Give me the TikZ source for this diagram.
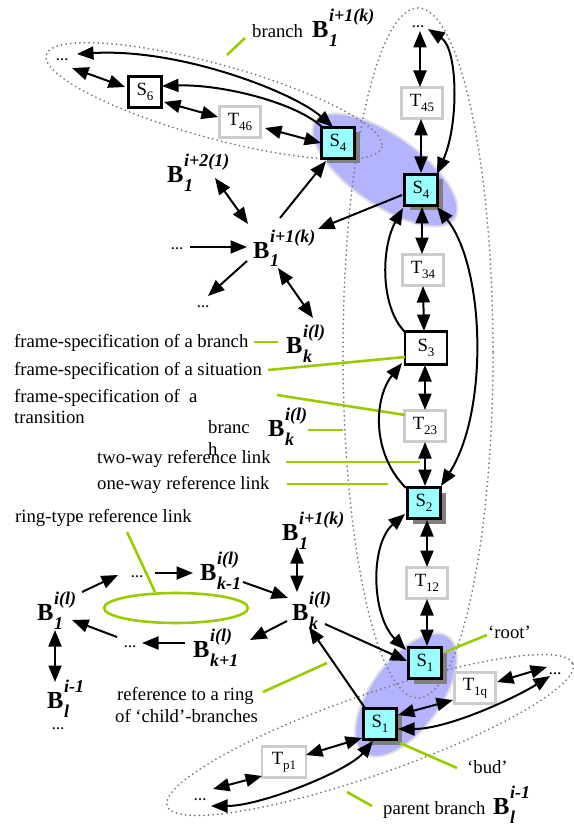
\documentclass[tikz,border=0pt]{standalone}
\usepackage{fontspec}
\setmainfont{Liberation Serif}
\usetikzlibrary{arrows.meta,calc,shadows}

\definecolor{cyanfill}{HTML}{99FFFF}
\definecolor{blobfill}{HTML}{B3B3FF}
\definecolor{blobedge}{HTML}{E0E0E0}
\definecolor{leaf}{HTML}{99CC00}
\definecolor{tedge}{HTML}{CCCCCC}
\definecolor{dotgray}{HTML}{7A7A7A}
\definecolor{shade}{HTML}{808080}

% subscript of a situation / transition label
\newcommand\lsub[1]{\raisebox{-5pt}{\fontsize{13}{13}\selectfont #1}}
% branch symbol B with sub- and superscript
\newcommand\Blab[2]{{\fontsize{24.5}{24}\selectfont\bfseries B}\kern0.5pt\raisebox{-9pt}{\fontsize{18}{25}\selectfont\bfseries\itshape\vbox{\hbox{#2}\hbox{#1}}}}

\begin{document}
\begin{tikzpicture}[x=1pt, y=-1pt, font=\fontsize{18.7}{22}\selectfont,
  sbox/.style={draw=black, line width=2.2pt, fill=white, minimum width=33pt, minimum height=31pt, inner sep=0pt},
  cbox/.style={sbox, fill=cyanfill, drop shadow={shadow xshift=5pt, shadow yshift=-5pt, opacity=1, fill=shade}},
  tbox/.style={draw=tedge, line width=2.2pt, fill=white, minimum width=41pt, minimum height=31pt, inner sep=0pt},
  bl/.style={anchor=base west, inner sep=0pt},
  dotlabel/.style={anchor=base, inner sep=0pt, font=\fontsize{12.5}{12}\selectfont\bfseries},
  txt/.style={anchor=base west, inner sep=0pt},
  link/.style={line width=2pt, -{Triangle[length=16.5pt,width=13pt]}},
  link2/.style={line width=2pt, {Triangle[length=16.5pt,width=13pt]}-{Triangle[length=16.5pt,width=13pt]}},
  note/.style={draw=leaf, line width=2.6pt},
  ring/.style={draw=dotgray, line width=2pt, dash pattern=on 0pt off 4.6pt, line cap=round},
  blob/.style={fill=blobfill, draw=blobedge, line width=2pt}]

\useasboundingbox (0,0) rectangle (573,826);

% shaded groups and branch outlines
\draw[blob, rotate around={-35:(385,170)}] (385,170) ellipse [x radius=85, y radius=35];
\draw[blob, rotate around={54:(406,695)}] (406,695) ellipse [x radius=72, y radius=35];
\draw[ring, rotate around={-15.4:(214,101)}] (214,101) ellipse [x radius=174, y radius=37];
\draw[ring] (418,353) ellipse [x radius=75, y radius=345];
\draw[ring, rotate around={19.3:(370,735)}] (370,735) ellipse [x radius=215, y radius=40];
\draw[note] (176,608) ellipse [x radius=72, y radius=15];

% situations and transitions
\node[sbox] (S6) at (145,92) {S\lsub{6}};
\node[tbox] (T46) at (240,122) {T\lsub{46}};
\node[cbox] (S4L) at (338,143) {S\lsub{4}};
\node[tbox] (T45) at (422,103) {T\lsub{45}};
\node[cbox] (S4R) at (421,190) {S\lsub{4}};
\node[tbox] (T34) at (423,270) {T\lsub{34}};
\node[sbox, minimum width=42pt, minimum height=33pt] (S3) at (426,348) {S\lsub{3}};
\node[tbox] (T23) at (425,426) {T\lsub{23}};
\node[cbox] (S2) at (424,503) {S\lsub{2}};
\node[tbox] (T12) at (427,583) {T\lsub{12}};
\node[cbox] (S1r) at (425,663) {S\lsub{1}};
\node[tbox] (T1q) at (475,688) {T\lsub{1q}};
\node[cbox] (S1b) at (380,724) {S\lsub{1}};
\node[tbox, minimum width=44pt] (Tp1) at (284,762) {T\lsub{p1}};

% ellipses of omitted items
\node[dotlabel] (dTL) at (62,61) {…};
\node[dotlabel] (dT) at (418,28) {…};
\node[dotlabel] (dR) at (555,674) {…};
\node[dotlabel] (dBL) at (200,800) {…};
\node[dotlabel] (dM1) at (177,249) {…};
\node[dotlabel] (dM2) at (203,307) {…};
\node[dotlabel] (dR1) at (137,577) {…};
\node[dotlabel] (dR2) at (130,647) {…};
\node[dotlabel] (dBl) at (58,729) {…};

% branches
\node[bl] (bTop) at (312,38) {\Blab{1}{i+1(k)}};
\node[bl] (bI2) at (167,183) {\Blab{1}{i+2(1)}};
\node[bl] (bMid) at (253,258) {\Blab{1}{i+1(k)}};
\node[bl] (bKa) at (286,353) {\Blab{k}{i(l)}};
\node[bl] (bKb) at (268,436) {\Blab{k}{i(l)}};
\node[bl] (bLow) at (282,540) {\Blab{1}{i+1(k)}};
\node[bl] (bKm) at (200,580) {\Blab{k-1}{i(l)}};
\node[bl] (bK) at (292,620) {\Blab{k}{i(l)}};
\node[bl] (bKp) at (193,657) {\Blab{k+1}{i(l)}};
\node[bl] (b1) at (37,620) {\Blab{1}{i(l)}};
\node[bl] (bL) at (47,708) {\Blab{l}{i-1}};
\node[bl] (bPar) at (493,814) {\Blab{l}{i-1}};

% captions
\node[txt] (tBr) at (252,38) {branch};
\node[txt] (tFB) at (14,347) {frame-specification of a branch};
\node[txt] (tFS) at (14,375) {frame-specification of a situation};
\node[txt] (tFT) at (14,402) {frame-specification of~ a};
\node[txt] (tFT2) at (14,423) {transition};
\node[txt] (tBc) at (208,433) {branc};
\node[txt] (tBh) at (208,455) {h};
\node[txt] (tTw) at (97,463) {two-way reference link};
\node[txt] (tOw) at (97,489) {one-way reference link};
\node[txt] (tRg) at (15,522) {ring-type reference link};
\node[txt] (tRf) at (117,700) {reference to a ring};
\node[txt] (tRf2) at (115,722) {of ‘child’-branches};
\node[txt] (tRoot) at (488,638) {‘root’};
\node[txt] (tBud) at (467,773) {‘bud’};
\node[txt] (tPar) at (383,814) {parent branch};

% caption pointers
\draw[note] ($(tBr.base west)+(-25,17)$) -- ($(tBr.base west)+(-7,0)$);
\draw[note] ($(tFB.base east)+(5,-5)$) -- ($(bKa.base west)+(-8,-11)$);
\draw[note] ($(tFS.base east)+(6,-5)$) -- ($(S3)+(-21,9)$);
\draw[note] ($(T23)+(-148,-31)$) -- ($(T23)+(-20,-11)$);
\draw[note] ($(bKb.base west)+(40,-6)$) -- ($(bKb.base west)+(75,-6)$);
\draw[note] ($(tTw.base east)+(15,-1)$) -- ($(S2)+(-4,-41)$);
\draw[note] ($(tOw.base east)+(17,-5)$) -- ($(S2)+(-36,-19)$);
\draw[note] ($(tRg.base west)+(112,10)$) -- ($(tRg.base west)+(140,70)$);
\draw[note] ($(bK.base west)+(-29,72)$) -- ($(bK.base west)+(35,43)$);
\draw[note] ($(S1r)+(20,-11)$) -- ($(S1r)+(62,-28)$);
\draw[note] ($(S1b)+(20,19)$) -- ($(S1b)+(77,44)$);
\draw[note] ($(tPar.base west)+(-36,-22)$) -- ($(tPar.base west)+(-11,-8)$);

% upper branch
\draw[link2] ($(dTL.base)+(15,-7)$) .. controls +(103,-6) and +(-40,-35) .. ($(S4L)+(-5,-16)$);
\draw[link2] ($(dTL.base)+(10,7)$) -- ($(S6)+(-20,-5)$);
\draw[link] ($(S4L)+(-15,-15)$) .. controls +(-25,-25) and +(60,-2) .. ($(S6)+(17,-6)$);
\draw[link2] ($(S6)+(19,10)$) -- ($(T46)+(-22,-5)$);
\draw[link2] ($(T46)+(25,6)$) -- ($(S4L)+(-17,0)$);

% star of branch references
\draw[link] ($(bMid.base west)+(27,-40)$) -- ($(S4L)+(-12,18)$);
\draw[link] ($(S4R)+(-19,5)$) -- ($(bMid.base west)+(65,-29)$);
\draw[link2] ($(bI2.base west)+(48,-5)$) -- ($(bMid.base west)+(-5,-34)$);
\draw[link] ($(dM1.base)+(13,-2)$) -- ($(bMid.base west)+(-6,-11)$);
\draw[link] ($(bMid.base west)+(-6,3)$) -- ($(dM2.base)+(5,-11)$);
\draw[link2] ($(bMid.base west)+(25,10)$) -- ($(bKa.base west)+(27,-35)$);

% main branch
\draw[link2] ($(dT.base)+(2,3)$) -- ($(T45)+(-2,-16)$);
\draw[link2] ($(dT.base)+(10,1)$) .. controls +(30,20) and +(22,-50) .. ($(S4R)+(16,-16)$);
\draw[link2] ($(T45)+(-1,16)$) -- ($(S4R)+(0,-17)$);
\draw[link2] ($(S4R)+(1,17)$) -- ($(T34)+(-1,-16)$);
\draw[link2] ($(T34)+(0,16)$) -- ($(S3)+(-2,-17)$);
\draw[link2] ($(S3)+(-1,17)$) -- ($(T23)+(0,-16)$);
\draw[link2] ($(T23)+(0,16)$) -- ($(S2)+(1,-17)$);
\draw[link2] ($(S2)+(3,17)$) -- ($(T12)+(0,-16)$);
\draw[link2] ($(T12)+(0,16)$) -- ($(S1r)+(2,-17)$);
\draw[link2] ($(S4R)+(16,17)$) .. controls +(48,60) and +(48,-75) .. ($(S2)+(17,-17)$);
\draw[link] ($(S3)+(-21,-16)$) .. controls +(-25,-25) and +(-22,40) .. ($(S4R)+(-18,18)$);
\draw[link] ($(S2)+(-18,-15)$) .. controls +(-35,-35) and +(-28,35) .. ($(S3)+(-24,15)$);
\draw[link2] ($(S2)+(-19,11)$) .. controls +(-35,30) and +(-35,-35) .. ($(S1r)+(-19,-13)$);

% ring of child branches
\draw[link] ($(bK.base west)+(33,4)$) -- ($(S1r)+(-18,-2)$);
\draw[link] ($(S1b)+(-15,-16)$) -- ($(bK.base west)+(17,7)$);
\draw[link2] ($(bLow.base west)+(15,7)$) -- ($(bK.base west)+(5,-28)$);
\draw[link] ($(bKm.base west)+(43,2)$) -- ($(bK.base west)+(-4,-22)$);
\draw[link] ($(bK.base west)+(-5,1)$) -- ($(bKp.base west)+(57,-17)$);
\draw[link] ($(bKp.base west)+(-8,-14)$) -- ($(dR2.base)+(12,-4)$);
\draw[link] ($(dR2.base)+(-13,-10)$) -- ($(b1.base west)+(35,0)$);
\draw[link] ($(b1.base west)+(45,-28)$) -- ($(dR1.base)+(-19,-2)$);
\draw[link] ($(dR1.base)+(18,-4)$) -- ($(bKm.base west)+(-7,-7)$);
\draw[link2] ($(b1.base west)+(18,10)$) -- ($(bL.base west)+(8,-26)$);

% parent branch
\draw[link2] ($(T1q)+(-22,12)$) -- ($(S1b)+(18,-9)$);
\draw[link2] ($(T1q)+(22,-6)$) -- ($(dR.base)+(-8,-7)$);
\draw[link2] ($(S1b)+(18,5)$) .. controls +(50,0) and +(-35,22) .. ($(dR.base)+(-5,2)$);
\draw[link2] ($(Tp1)+(22,-7)$) -- ($(S1b)+(-18,14)$);
\draw[link2] ($(Tp1)+(-22,14)$) -- ($(dBL.base)+(13,-11)$);
\draw[link2] ($(S1b)+(-7,17)$) .. controls +(-25,30) and +(50,0) .. ($(dBL.base)+(11,6)$);

\end{tikzpicture}
\end{document}
